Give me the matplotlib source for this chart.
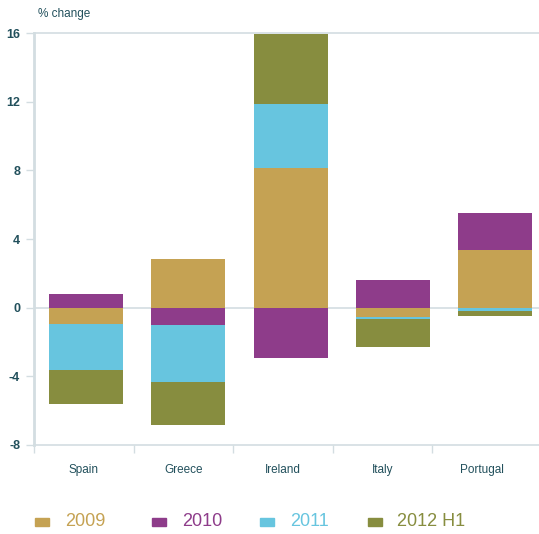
import numpy as np
import matplotlib
matplotlib.use("Agg")
import matplotlib.pyplot as plt

countries = ["Spain", "Greece", "Ireland", "Italy", "Portugal"]
series = ["2009", "2010", "2011", "2012 H1"]
v2009 = [-0.94, 2.84, 8.16, -0.55, 3.36]
v2010 = [0.79, -1.02, -2.92, 1.61, 2.16]
v2011 = [-2.68, -3.30, 3.72, -0.12, -0.20]
v2012 = [-1.99, -2.51, 4.10, -1.61, -0.27]
colors = ["#C5A253", "#8E3C8A", "#67C5DF", "#878D3F"]
yticks = [-8, -4, 0, 4, 8, 12, 16]

txt = "#22505c"
line = "#d3dde1"
plt.rcParams["font.family"] = ["Liberation Sans", "DejaVu Sans"]

fig = plt.figure(figsize=(5.39, 5.34), dpi=100)
W, H = 539, 534
ax = fig.add_axes([34 / W, (H - 444.7) / H, (W - 34) / W, (444.7 - 33.3) / H])

# bar centres are spaced a bit wider than the category slots
pitch_bar, pitch_cat, x0_bar, x0_cat = 102.25, 99.5, 86, 34
x = np.arange(len(countries))
pos_base = np.zeros(len(countries))
neg_base = np.zeros(len(countries))
for vals, c in zip([v2009, v2010, v2011, v2012], colors):
    vals = np.array(vals)
    base = np.where(vals >= 0, pos_base, neg_base)
    ax.bar(x, vals, bottom=base, width=74 / pitch_bar, color=c, linewidth=0, zorder=2)
    pos_base = pos_base + np.clip(vals, 0, None)
    neg_base = neg_base + np.clip(vals, None, 0)

ax.set_ylim(-8, 16)
ax.set_xlim((x0_cat - x0_bar) / pitch_bar, (W - x0_bar) / pitch_bar)
ax.axhline(0, color=line, lw=1.2, zorder=1)

bounds = [(x0_cat + pitch_cat * k - x0_bar) / pitch_bar for k in range(5)]
labpos = [(x0_cat + pitch_cat * (k + 0.5) - x0_bar) / pitch_bar for k in range(5)]
ax.set_xticks(bounds)
ax.set_xticklabels([])
ax.set_xticks(labpos, minor=True)
ax.set_xticklabels(countries, minor=True)
ax.tick_params(axis="x", which="major", length=6, width=1, color=line)
ax.tick_params(axis="x", which="minor", length=0, pad=14, labelsize=8.5, labelcolor=txt)

ax.set_yticks(yticks)
ax.set_yticklabels([str(t) for t in yticks])
ax.tick_params(axis="y", length=6, width=1, color=line, pad=4, labelsize=9, labelcolor=txt)
for lab in ax.get_yticklabels():
    lab.set_fontweight("bold")

for s in ["top", "bottom"]:
    ax.spines[s].set_color(line)
    ax.spines[s].set_linewidth(1.2)
ax.spines["left"].set_color(line)
ax.spines["left"].set_linewidth(2)
ax.spines["right"].set_visible(False)

fig.text(38 / W, 1 - 14 / H, "% change", color=txt, fontsize=8.5, va="center", ha="left")

# legend row
lx_sq = [35, 152, 260, 368]
lx_tx = [65, 182, 290, 397]
ly = 522
for name, c, xs, xt in zip(series, colors, lx_sq, lx_tx):
    fig.patches.append(plt.Rectangle((xs / W, 1 - (ly + 4) / H), 14 / W, 8 / H,
                                     transform=fig.transFigure, color=c))
    fig.text(xt / W, 1 - ly / H, name, color=c, fontsize=13, va="center", ha="left")

fig.savefig("out.png", dpi=100)
